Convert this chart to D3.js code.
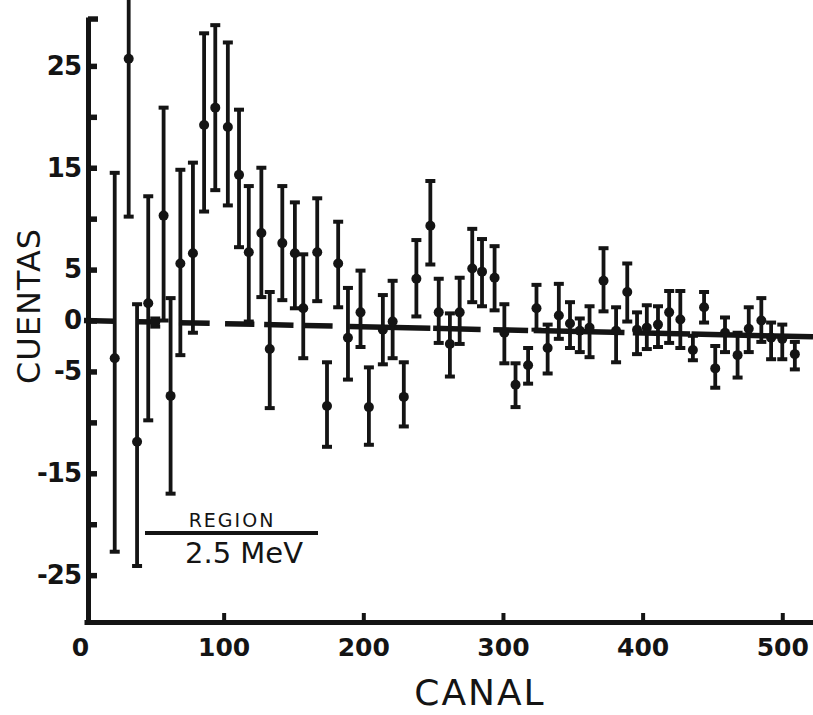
<!DOCTYPE html>
<html><head><meta charset="utf-8">
<script src="https://cdn.jsdelivr.net/npm/d3@7"></script>
<style>
html,body{margin:0;padding:0;background:#fff;}
svg{display:block;}
</style></head>
<body>
<svg id="chart" width="813" height="715"></svg>
<script>
// ---- data ----
const channel = [22,32,38,46,51,57,62,69,78,86,94,103,111,118,127,133,142,151,157,167,174,182,189,198,204,214,221,229,238,248,254,262,269,278,285,294,301,309,318,324,332,340,348,355,362,372,381,389,396,403,411,419,427,436,444,452,459,468,476,485,492,500,509];
const counts = [-3.7,25.7,-11.9,1.7,-0.2,10.3,-7.4,5.6,6.6,19.2,20.9,19.0,14.3,6.7,8.6,-2.8,7.6,6.6,1.2,6.7,-8.4,5.6,-1.7,0.8,-8.5,-0.9,-0.1,-7.5,4.1,9.3,0.8,-2.3,0.8,5.1,4.8,4.2,-1.2,-6.3,-4.4,1.2,-2.7,0.5,-0.3,-1.0,-0.7,3.9,-1.0,2.8,-0.9,-0.7,-0.4,0.8,0.1,-2.9,1.3,-4.7,-1.2,-3.4,-0.8,0.0,-1.7,-1.8,-3.3];
const errHigh = [14.5,32,1.6,12.2,0.2,20.9,2.2,14.8,15.5,28.2,29.0,27.3,20.7,13.2,15.0,2.8,13.2,11.6,6.5,12.0,-4.1,9.7,3.2,4.9,-4.6,2.5,3.9,-4.1,7.9,13.7,4.1,0.7,4.2,9.0,8.0,7.3,1.6,-4.2,-2.7,3.5,-0.4,3.6,1.8,0.2,1.4,7.1,1.3,5.6,0.8,1.5,1.4,2.9,2.9,-1.5,2.8,-2.5,0.3,-1.2,1.3,2.2,-0.2,-0.4,-2.1];
const errLow = [-22.7,10.2,-24.1,-9.8,-0.6,0.0,-17.0,-3.4,-1.2,10.7,12.8,11.3,7.2,-0.1,2.3,-8.6,2.0,1.2,-3.7,1.9,-12.4,1.3,-5.8,-2.6,-12.2,-4.3,-3.7,-10.4,0.4,5.5,-2.2,-5.5,-2.3,1.8,1.4,1.0,-4.2,-8.5,-6.2,-0.9,-5.2,-1.8,-2.7,-3.1,-3.6,0.9,-4.1,-0.1,-3.3,-2.8,-2.6,-2.2,-2.7,-3.9,-0.2,-6.6,-3.1,-5.6,-3.1,-2.1,-3.8,-3.8,-4.8];

// dashed reference line (channel ends and value at ends)
const baseLineChannel = [0, 522];
const baseLineValue = [0, -1.6];
const baseSegStart = [0, 38, 68, 101, 129, 158, 190, 250, 293, 322, 393, 435];
const baseSegEnd   = [22, 51, 90, 122, 150, 178, 248, 284, 318, 387, 434, 522];

const xTicks = [0, 100, 200, 300, 400, 500];
const yTicks = [-25, -20, -15, -10, -5, 0, 5, 10, 15, 20, 25];
const yTickLabels = ["-25", "", "-15", "", "-5", "0", "5", "", "15", "", "25"];
const xTitle = "CANAL";
const yTitle = "CUENTAS";
const noteTop = "REGION";
const noteBottom = "2.5 MeV";

// ---- drawing ----
const svg = d3.select("#chart");
const ink = "#141414";

const x = d3.scaleLinear().domain([0, 522]).range([84, 813]);
const y = d3.scaleLinear().domain([-29.6, 29.8]).range([622, 17]);
const base = d3.scaleLinear().domain(baseLineChannel).range(baseLineValue);

// y axis
const yAxis = d3.axisLeft(y)
  .tickValues(yTicks)
  .tickSizeInner(-9)
  .tickSizeOuter(0)
  .tickPadding(7)
  .tickFormat((d, i) => yTickLabels[i]);
const gy = svg.append("g").attr("transform", `translate(${x(0) + 4},0)`).call(yAxis);
gy.select(".domain").attr("stroke", ink).attr("stroke-width", 5);
gy.selectAll(".tick line").attr("stroke", ink).attr("stroke-width", 5.5);
gy.selectAll(".tick text").attr("fill", ink)
  .style("font-family", "'DejaVu Sans', sans-serif")
  .style("font-weight", "bold")
  .style("font-size", "26px")
  .style("letter-spacing", "-1px");
// small cap at top of axis
gy.append("line").attr("x1", 0).attr("x2", 10)
  .attr("y1", y(29.6)).attr("y2", y(29.6))
  .attr("stroke", ink).attr("stroke-width", 5.5);

// x axis
const xAxis = d3.axisBottom(x)
  .tickValues(xTicks)
  .tickSizeInner(-9)
  .tickSizeOuter(0)
  .tickPadding(13)
  .tickFormat(d3.format("d"));
const gx = svg.append("g").attr("transform", `translate(0,${y(-29.6)})`).call(xAxis);
gx.select(".domain").attr("stroke", ink).attr("stroke-width", 5);
gx.selectAll(".tick line").attr("stroke", ink).attr("stroke-width", 4);
gx.selectAll(".tick text").attr("fill", ink)
  .style("font-family", "'DejaVu Sans', sans-serif")
  .style("font-weight", "bold")
  .style("font-size", "25px")
  .attr("dy", "0.85em");
gx.selectAll(".tick").filter(d => d === 0).select("line").remove();
gx.selectAll(".tick").filter(d => d === 0).select("text").attr("x", -4);

// titles
svg.append("text")
  .attr("x", 480).attr("y", 705)
  .attr("text-anchor", "middle")
  .attr("fill", ink)
  .style("font-family", "'DejaVu Sans', sans-serif")
  .style("font-size", "36px")
  .style("letter-spacing", "2px")
  .text(xTitle);
svg.append("text")
  .attr("transform", "translate(40,306) rotate(-90)")
  .attr("text-anchor", "middle")
  .attr("fill", ink)
  .style("font-family", "'DejaVu Sans', sans-serif")
  .style("font-size", "32px")
  .style("letter-spacing", "1px")
  .text(yTitle);

// dashed reference line
const segs = baseSegStart.map((s, i) => ({s, e: baseSegEnd[i]}));
svg.append("g").selectAll("line").data(segs).join("line")
  .attr("x1", d => x(d.s)).attr("x2", d => x(d.e))
  .attr("y1", d => y(base(d.s))).attr("y2", d => y(base(d.e)))
  .attr("stroke", ink).attr("stroke-width", 5.5);

// error bars
const pts = channel.map((c, i) => ({c, v: counts[i], hi: errHigh[i], lo: errLow[i]}));
const g = svg.append("g");
g.selectAll("line.bar").data(pts).join("line").attr("class", "bar")
  .attr("x1", d => x(d.c)).attr("x2", d => x(d.c))
  .attr("y1", d => y(d.hi)).attr("y2", d => y(d.lo))
  .attr("stroke", ink).attr("stroke-width", 3.8);
g.selectAll("line.capHi").data(pts).join("line").attr("class", "capHi")
  .attr("x1", d => x(d.c) - 5).attr("x2", d => x(d.c) + 5)
  .attr("y1", d => y(d.hi)).attr("y2", d => y(d.hi))
  .attr("stroke", ink).attr("stroke-width", 4);
g.selectAll("line.capLo").data(pts).join("line").attr("class", "capLo")
  .attr("x1", d => x(d.c) - 5).attr("x2", d => x(d.c) + 5)
  .attr("y1", d => y(d.lo)).attr("y2", d => y(d.lo))
  .attr("stroke", ink).attr("stroke-width", 4);
g.selectAll("circle").data(pts).join("circle")
  .attr("cx", d => x(d.c)).attr("cy", d => y(d.v)).attr("r", 5)
  .attr("fill", ink);

// region annotation
svg.append("line")
  .attr("x1", 145).attr("x2", 318).attr("y1", 533).attr("y2", 533)
  .attr("stroke", ink).attr("stroke-width", 4);
svg.append("text")
  .attr("x", 232).attr("y", 527).attr("text-anchor", "middle")
  .attr("fill", ink)
  .style("font-family", "'DejaVu Sans', sans-serif")
  .style("font-size", "19px")
  .style("letter-spacing", "2px")
  .text(noteTop);
svg.append("text")
  .attr("x", 244).attr("y", 563).attr("text-anchor", "middle")
  .attr("fill", ink)
  .style("font-family", "'DejaVu Sans', sans-serif")
  .style("font-size", "29px")
  .text(noteBottom);
</script>
</body></html>
